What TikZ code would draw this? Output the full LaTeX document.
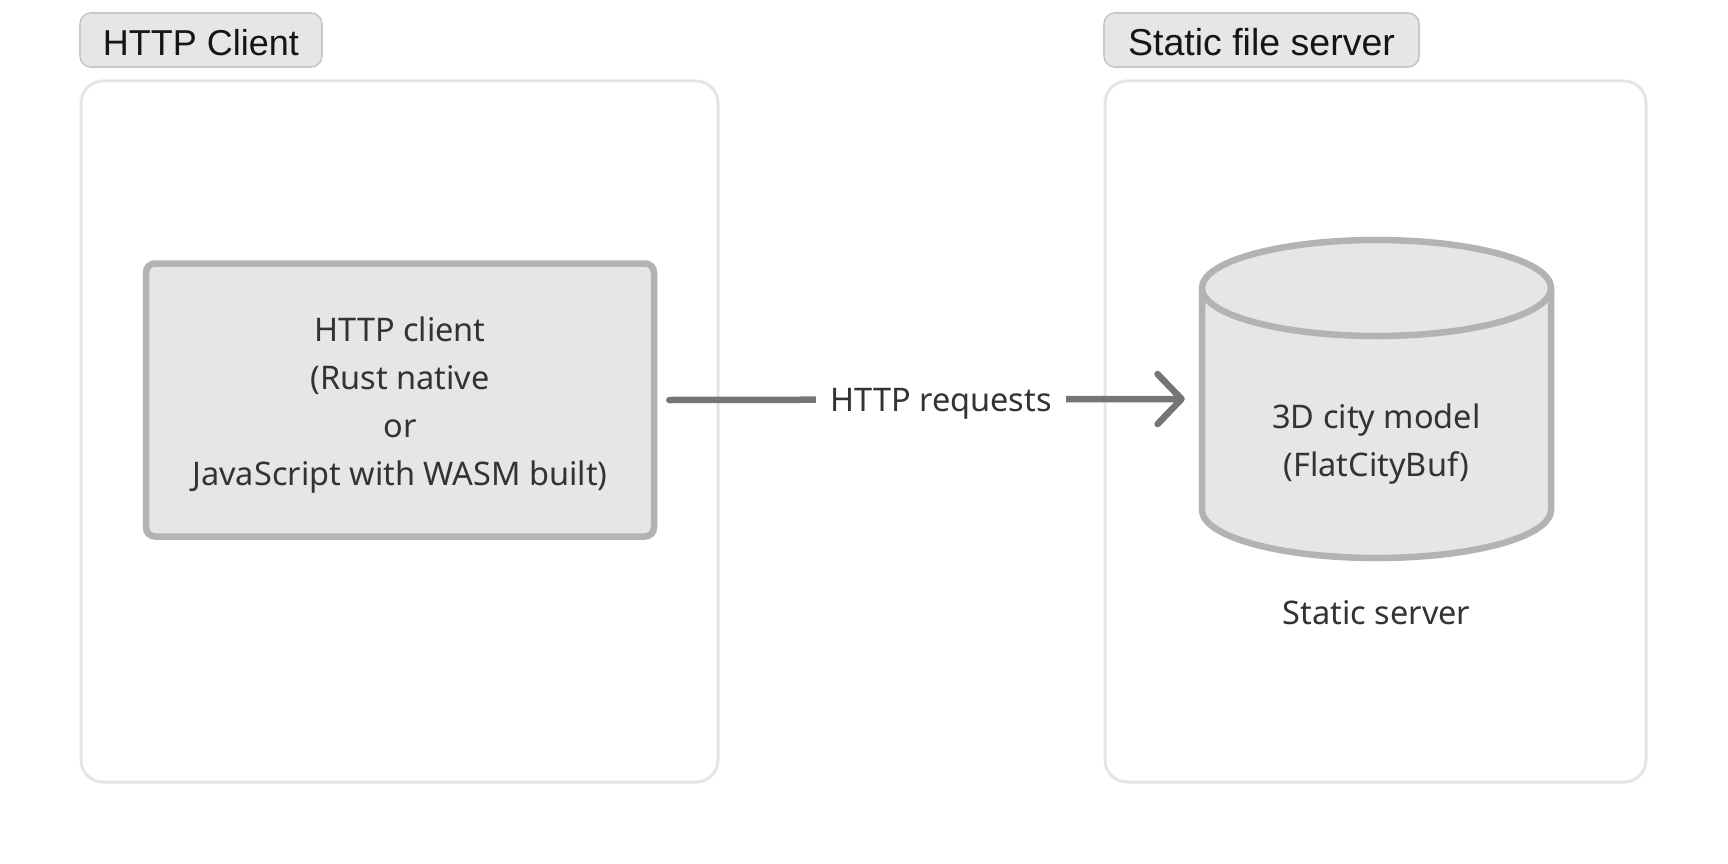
\documentclass[tikz,border=0pt]{standalone}
\usepackage{fontspec}
\setmainfont{Noto Sans}
\newfontfamily\hdrfont{Liberation Sans}
\usetikzlibrary{arrows.meta}
\definecolor{boxfill}{HTML}{E6E6E6}
\definecolor{boxline}{HTML}{B3B3B3}
\definecolor{contline}{HTML}{E5E5E5}
\definecolor{hdrline}{HTML}{C8C8C8}
\definecolor{arrowcol}{HTML}{757575}
\definecolor{txt}{HTML}{333333}
\definecolor{hdrtxt}{HTML}{151515}
\tikzset{
  container/.style={draw=contline, line width=3pt, rounded corners=22pt, fill=white, inner sep=0pt},
  header/.style={draw=hdrline, line width=1.6pt, fill=boxfill, rounded corners=11pt, inner sep=0pt,
    text=hdrtxt, font=\hdrfont\fontsize{36}{40}\selectfont},
  procbox/.style={draw=boxline, line width=6.5pt, fill=boxfill, rounded corners=9pt, inner sep=0pt,
    text=txt, font=\fontsize{32.5}{48}\selectfont},
  cyl/.style={draw=boxline, line width=6.5pt, fill=boxfill},
  bodytext/.style={text=txt, align=center, font=\fontsize{32.5}{48}\selectfont},
  conn/.style={draw=arrowcol, line width=6.5pt, line cap=round,
    -{Straight Barb[length=24pt,width=50pt,line cap=round,line join=round]}},
  lbl/.style={fill=white, inner xsep=14pt, inner ysep=4pt, text=txt, font=\fontsize{32.5}{38}\selectfont},
}
\begin{document}
\begin{tikzpicture}[x=1pt,y=-1pt]
\useasboundingbox[fill=white] (0,0) rectangle (1728,864);
% containers
\node[container, minimum width=637pt, minimum height=701pt] (leftc) at (399.5,431.5) {};
\node[container, minimum width=541pt, minimum height=701pt] (rightc) at (1375.5,431.5) {};
% headers
\node[header, minimum width=242pt, minimum height=54pt] (lhdr) at (201,40) {\raisebox{-2.5pt}[\height][\depth]{HTTP Client}};
\node[header, minimum width=315pt, minimum height=54pt] (rhdr) at (1261.5,40) {\raisebox{-2.5pt}[\height][\depth]{\fontsize{37.5}{40}\selectfont Static file server}};
% client box
\node[procbox, minimum width=508pt, minimum height=273pt] (cl) at (400,400)
  {\raisebox{-3.5pt}[\height][\depth]{\begin{tabular}{@{}c@{}}HTTP client\\(Rust native\\or\\JavaScript with WASM built)\end{tabular}}};
% cylinder
\filldraw[cyl] (1202,288) -- (1202,510) arc[start angle=180, end angle=0, x radius=174.5, y radius=48] -- (1551,288);
\filldraw[cyl] (1376.5,288) ellipse [x radius=174.5, y radius=48];
\node[inner sep=0pt, minimum width=349pt, minimum height=270pt] (db) at (1376.5,399) {};
\node[bodytext] (dbtext) at (1376.5,444.5) {3D city model\\(FlatCityBuf)};
\node[bodytext] (dblabel) at (1376.5,613) {Static server};
% connector
\draw[conn] ([xshift=12pt]cl.east) -- node[lbl, pos=0.527] (reqlbl) {\raisebox{-4pt}[\height][\depth]{HTTP requests}} ([xshift=-17pt]db.west);
\end{tikzpicture}
\end{document}
